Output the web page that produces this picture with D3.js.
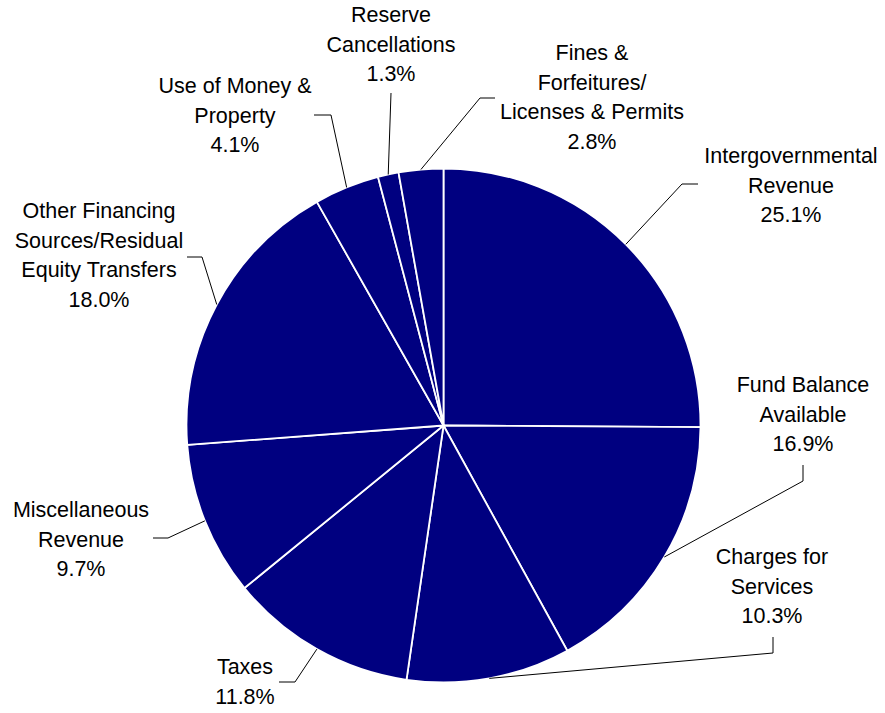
<!DOCTYPE html>
<html>
<head>
<meta charset="utf-8">
<script src="https://cdn.jsdelivr.net/npm/d3@7"></script>
<style>
body { margin: 0; background: #fff; }
svg text { font-family: "Liberation Sans", Arial, sans-serif; font-size: 21.5px; fill: #000; }
</style>
</head>
<body>
<div id="chart"></div>
<script>
// slice data, clockwise from 12 o'clock
var categories = ["Intergovernmental Revenue", "Fund Balance Available", "Charges for Services", "Taxes",
  "Miscellaneous Revenue", "Other Financing Sources/Residual Equity Transfers", "Use of Money & Property",
  "Reserve Cancellations", "Fines & Forfeitures/ Licenses & Permits"];
var percents = [25.1, 16.9, 10.3, 11.8, 9.7, 18.0, 4.1, 1.3, 2.8];
var labelLines = [
  ["Intergovernmental", "Revenue"],
  ["Fund Balance", "Available"],
  ["Charges for", "Services"],
  ["Taxes"],
  ["Miscellaneous", "Revenue"],
  ["Other Financing", "Sources/Residual", "Equity Transfers"],
  ["Use of Money &", "Property"],
  ["Reserve", "Cancellations"],
  ["Fines &", "Forfeitures/", "Licenses & Permits"]
];

// label placement: text centre x, first baseline y, leader elbow and end
var labelPos = [
  {x: 791, y: 163, elbow: [682, 184], end: [698, 184]},
  {x: 803, y: 392, elbow: [803, 481], end: [803, 465]},
  {x: 772, y: 564, elbow: [773, 653], end: [773, 637]},
  {x: 245, y: 674, elbow: [295, 682], end: [279, 682]},
  {x: 81,  y: 517, elbow: [168, 538], end: [153, 538]},
  {x: 99,  y: 218, elbow: [202, 257], end: [187, 257]},
  {x: 235, y: 93,  elbow: [331, 115], end: [314, 115]},
  {x: 391, y: 22,  elbow: [391, 93],  end: [391, 93]},
  {x: 592, y: 60,  elbow: [480, 98],  end: [495, 98]}
];

var width = 885, height = 713;
var cx = 443.5, cy = 425.5, radius = 257;
var lineH = 29.7;

var svg = d3.select("#chart")
  .append("svg")
  .attr("width", width)
  .attr("height", height);

var data = categories.map(function(c, i){ return {name: c, value: percents[i], idx: i}; });

var pie = d3.pie()
  .sort(null)
  .value(function(d){ return d.value; });

var arc = d3.arc()
  .innerRadius(0)
  .outerRadius(radius);

var arcs = pie(data);

var g = svg.append("g")
  .attr("transform", "translate(" + cx + "," + cy + ")");

g.selectAll("path")
  .data(arcs)
  .enter()
  .append("path")
  .attr("d", arc)
  .attr("fill", "#000080")
  .attr("stroke", "#fff")
  .attr("stroke-width", 1.8)
  .attr("stroke-linejoin", "round");

// leader lines
svg.append("g")
  .selectAll("polyline")
  .data(arcs)
  .enter()
  .append("polyline")
  .attr("points", function(d){
    var a = (d.startAngle + d.endAngle) / 2;
    var px = cx + radius * Math.sin(a);
    var py = cy - radius * Math.cos(a);
    var p = labelPos[d.data.idx];
    return [[px, py], p.elbow, p.end].map(function(q){ return q.join(","); }).join(" ");
  })
  .attr("fill", "none")
  .attr("stroke", "#000")
  .attr("stroke-width", 1);

// labels
var labels = svg.append("g")
  .selectAll("text")
  .data(arcs)
  .enter()
  .append("text")
  .attr("text-anchor", "middle");

labels.each(function(d){
  var p = labelPos[d.data.idx];
  var lines = labelLines[d.data.idx].concat([d3.format(".1f")(d.data.value) + "%"]);
  var t = d3.select(this);
  lines.forEach(function(s, k){
    t.append("tspan")
      .attr("x", p.x)
      .attr("y", p.y + k * lineH)
      .text(s);
  });
});
</script>
</body>
</html>
